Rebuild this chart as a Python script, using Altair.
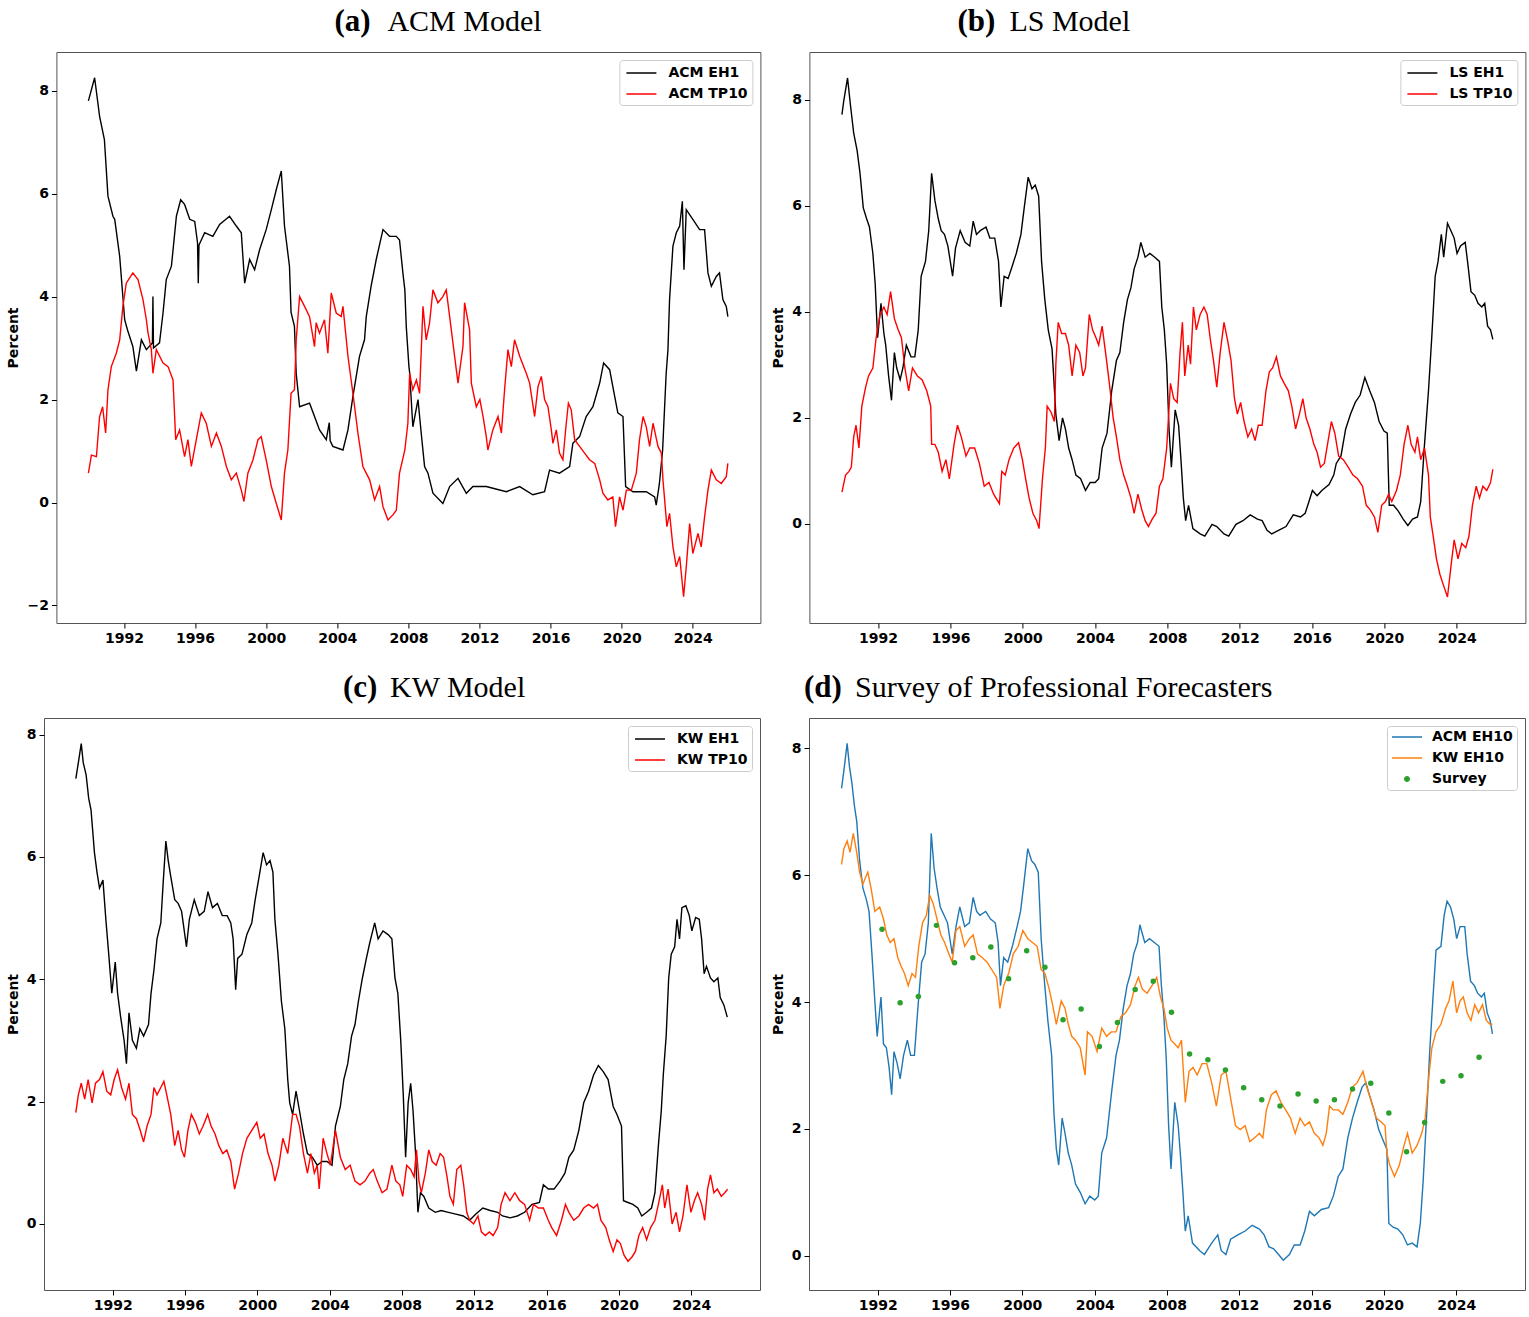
import altair as alt
import pandas as pd

# ---------------------------------------------------------------- data
# (decimal year, percent) pairs for each series

ACM_EH1 = [(1990.0,7.8),(1990.35,8.25),(1990.63,7.5),(1990.9,7.05),(1991.1,5.95),(1991.38,5.56),(1991.48,5.5),
    (1991.76,4.78),(1992.04,3.55),(1992.2,3.35),(1992.5,3.03),(1992.7,2.55),(1992.98,3.16),(1993.26,2.97),
    (1993.6,3.1),(1993.63,4.0),(1993.66,3.0),(1994.0,3.1),(1994.2,3.69),(1994.38,4.33),(1994.67,4.59),
    (1994.95,5.56),(1995.19,5.88),(1995.41,5.79),(1995.7,5.5),(1995.98,5.46),(1996.14,5.04),(1996.18,4.26),
    (1996.22,5.0),(1996.54,5.24),(1997.0,5.17),(1997.38,5.4),(1997.94,5.56),(1998.32,5.37),(1998.6,5.24),
    (1998.79,4.26),(1999.07,4.72),(1999.35,4.52),(1999.63,4.91),(2000.0,5.3),(2000.29,5.69),(2000.57,6.08),
    (2000.85,6.44),(2001.03,5.37),(2001.31,4.59),(2001.4,3.69),(2001.59,3.42),(2001.69,2.5),(2001.88,1.86),
    (2002.44,1.93),(2002.72,1.67),(2003.0,1.41),(2003.38,1.22),(2003.55,1.55),(2003.6,1.2),(2003.75,1.09),
    (2004.32,1.02),(2004.6,1.41),(2004.88,2.06),(2005.25,2.84),(2005.53,3.16),(2005.63,3.61),(2005.9,4.2),
    (2006.19,4.72),(2006.57,5.3),(2006.94,5.17),(2007.32,5.17),(2007.5,5.1),(2007.69,4.46),(2007.8,4.13),
    (2007.88,3.42),(2008.03,2.64),(2008.07,2.52),(2008.25,1.47),(2008.54,2.0),(2008.72,1.35),(2008.91,0.7),
    (2009.1,0.57),(2009.38,0.18),(2009.94,-0.02),(2010.32,0.31),(2010.79,0.47),(2011.26,0.18),(2011.63,0.31),
    (2012.38,0.31),(2013.51,0.21),(2014.26,0.31),(2015.0,0.15),(2015.66,0.21),(2015.94,0.63),(2016.5,0.57),
    (2017.07,0.7),(2017.25,1.15),(2017.63,1.28),(2018.0,1.67),(2018.38,1.86),(2018.76,2.32),(2018.98,2.71),
    (2019.32,2.58),(2019.5,2.25),(2019.78,1.74),(2020.07,1.67),(2020.22,0.31),(2020.63,0.21),(2021.38,0.21),
    (2021.85,0.11),(2021.94,-0.05),(2022.12,0.37),(2022.3,1.02),(2022.5,2.51),(2022.6,2.97),(2022.69,3.94),
    (2022.88,4.98),(2023.07,5.24),(2023.26,5.37),(2023.41,5.85),(2023.5,4.52),(2023.63,5.69),(2024.0,5.5),
    (2024.38,5.3),(2024.66,5.3),(2024.85,4.46),(2025.04,4.2),(2025.32,4.39),(2025.5,4.46),(2025.69,3.94),
    (2025.88,3.81),(2025.97,3.61)]

ACM_TP10 = [(1990.0,0.57),(1990.17,0.92),(1990.45,0.89),(1990.63,1.67),(1990.8,1.86),(1990.97,1.35),(1991.1,2.19),
    (1991.29,2.64),(1991.57,2.9),(1991.76,3.16),(1991.94,3.81),(1992.13,4.26),(1992.5,4.46),(1992.79,4.33),
    (1993.07,3.94),(1993.26,3.55),(1993.35,3.3),(1993.54,2.97),(1993.63,2.51),(1993.82,2.97),(1994.2,2.71),
    (1994.48,2.64),(1994.76,2.38),(1994.91,1.22),(1995.13,1.41),(1995.41,0.89),(1995.6,1.22),(1995.79,0.7),
    (1996.07,1.22),(1996.35,1.74),(1996.63,1.54),(1996.92,1.09),(1997.2,1.35),(1997.48,1.09),(1997.76,0.7),
    (1998.04,0.44),(1998.32,0.57),(1998.6,0.24),(1998.75,0.02),(1998.97,0.57),(1999.26,0.83),(1999.54,1.22),
    (1999.72,1.28),(2000.0,0.83),(2000.29,0.31),(2000.57,-0.02),(2000.85,-0.34),(2001.03,0.57),(2001.22,1.02),
    (2001.4,2.12),(2001.59,2.19),(2001.69,3.16),(2001.88,4.0),(2002.16,3.81),(2002.44,3.61),(2002.72,3.03),
    (2002.81,3.49),(2003.0,3.29),(2003.28,3.55),(2003.47,2.9),(2003.66,4.07),(2003.94,3.68),(2004.22,3.61),
    (2004.32,3.81),(2004.6,2.84),(2004.88,2.12),(2005.16,1.35),(2005.44,0.7),(2005.82,0.44),(2006.1,0.05),
    (2006.38,0.31),(2006.57,-0.08),(2006.85,-0.34),(2007.13,-0.24),(2007.32,-0.15),(2007.5,0.57),(2007.8,1.02),
    (2007.97,1.54),(2008.07,2.51),(2008.25,2.19),(2008.45,2.38),(2008.63,2.12),(2008.82,3.81),(2009.0,3.16),
    (2009.19,3.49),(2009.38,4.13),(2009.66,3.88),(2009.94,4.0),(2010.13,4.13),(2010.32,3.61),(2010.6,2.84),
    (2010.79,2.32),(2011.07,3.03),(2011.16,3.88),(2011.44,3.36),(2011.54,2.32),(2011.82,1.86),(2012.02,2.0),
    (2012.2,1.67),(2012.38,1.28),(2012.47,1.02),(2012.75,1.41),(2013.04,1.67),(2013.23,1.35),(2013.41,2.19),
    (2013.6,2.97),(2013.79,2.64),(2013.97,3.16),(2014.26,2.84),(2014.63,2.51),(2014.82,2.32),(2015.1,1.67),
    (2015.29,2.25),(2015.48,2.45),(2015.66,2.0),(2015.85,1.86),(2016.04,1.41),(2016.13,1.15),(2016.32,1.41),
    (2016.5,0.96),(2016.69,0.83),(2016.88,1.54),(2017.0,1.93),(2017.16,1.8),(2017.35,1.22),(2017.63,1.09),
    (2017.91,0.96),(2018.19,0.83),(2018.48,0.76),(2018.76,0.44),(2018.94,0.18),(2019.22,0.05),(2019.5,0.11),
    (2019.65,-0.47),(2019.88,0.11),(2020.07,-0.15),(2020.26,0.24),(2020.54,0.24),(2020.82,0.57),(2021.0,1.22),
    (2021.2,1.67),(2021.38,1.47),(2021.57,1.09),(2021.76,1.54),(2022.04,1.09),(2022.23,0.96),(2022.32,0.44),
    (2022.54,-0.47),(2022.69,-0.21),(2022.88,-0.86),(2023.07,-1.25),(2023.26,-1.05),(2023.48,-1.83),
    (2023.63,-1.25),(2023.82,-0.41),(2024.0,-0.99),(2024.29,-0.6),(2024.47,-0.86),(2024.66,-0.28),
    (2024.85,0.24),(2025.04,0.63),(2025.32,0.44),(2025.6,0.37),(2025.88,0.5),(2025.97,0.76)]

LS_EH1 = [(1990.0,7.72),(1990.1,7.98),(1990.31,8.41),(1990.47,7.9),(1990.65,7.37),(1990.84,7.04),(1991.0,6.61),
    (1991.18,5.96),(1991.37,5.75),(1991.52,5.6),(1991.71,5.1),(1991.84,4.52),(1991.97,3.51),(1992.16,4.16),
    (1992.32,3.59),(1992.42,3.37),(1992.58,2.79),(1992.74,2.33),(1992.9,3.23),(1993.03,2.94),(1993.22,2.72),
    (1993.37,2.94),(1993.56,3.37),(1993.82,3.15),(1994.03,3.15),(1994.22,3.66),(1994.38,4.67),(1994.62,4.95),
    (1994.8,5.53),(1994.96,6.61),(1995.14,6.1),(1995.33,5.75),(1995.49,5.53),(1995.67,5.46),(1995.86,5.24),
    (1996.12,4.67),(1996.28,5.2),(1996.54,5.53),(1996.81,5.31),(1997.07,5.24),(1997.26,5.71),(1997.44,5.46),
    (1997.65,5.53),(1997.97,5.6),(1998.18,5.39),(1998.45,5.39),(1998.66,4.95),(1998.79,4.09),(1998.97,4.67),
    (1999.19,4.63),(1999.37,4.81),(1999.64,5.1),(1999.9,5.46),(2000.08,5.96),(2000.3,6.54),(2000.51,6.32),
    (2000.69,6.39),(2000.88,6.18),(2001.04,4.95),(2001.22,4.23),(2001.41,3.66),(2001.62,3.3),(2001.83,2.07),
    (2002.01,1.57),(2002.2,2.0),(2002.36,1.79),(2002.54,1.43),(2002.73,1.21),(2002.94,0.92),(2003.2,0.85),
    (2003.47,0.63),(2003.73,0.78),(2004.0,0.78),(2004.2,0.85),(2004.39,1.43),(2004.66,1.71),(2004.92,2.51),
    (2005.18,3.08),(2005.37,3.23),(2005.58,3.8),(2005.79,4.23),(2005.98,4.45),(2006.16,4.81),(2006.37,5.03),
    (2006.53,5.31),(2006.77,5.03),(2007.03,5.1),(2007.3,5.03),(2007.56,4.95),(2007.69,4.09),(2007.83,3.66),
    (2007.96,3.01),(2008.09,1.79),(2008.22,1.07),(2008.43,2.15),(2008.62,1.86),(2008.75,1.21),(2008.88,0.49),
    (2009.01,0.06),(2009.17,0.35),(2009.41,-0.09),(2009.81,-0.19),(2010.07,-0.23),(2010.47,-0.01),
    (2010.73,-0.05),(2011.13,-0.19),(2011.39,-0.23),(2011.79,-0.01),(2012.18,0.06),(2012.58,0.17),
    (2012.98,0.09),(2013.24,0.06),(2013.51,-0.12),(2013.77,-0.19),(2014.17,-0.12),(2014.56,-0.05),
    (2014.96,0.17),(2015.36,0.13),(2015.62,0.2),(2015.83,0.42),(2016.02,0.63),(2016.28,0.53),(2016.54,0.63),
    (2016.94,0.74),(2017.2,0.92),(2017.34,1.14),(2017.6,1.28),(2017.86,1.79),(2018.13,2.07),(2018.39,2.29),
    (2018.66,2.43),(2018.92,2.76),(2019.19,2.51),(2019.45,2.29),(2019.71,1.93),(2019.98,1.75),(2020.16,1.71),
    (2020.27,0.35),(2020.51,0.35),(2020.77,0.24),(2021.04,0.09),(2021.3,-0.03),(2021.56,0.09),(2021.83,0.13),
    (2022.01,0.42),(2022.22,1.5),(2022.44,2.51),(2022.62,3.51),(2022.81,4.67),(2022.97,4.95),(2023.15,5.46),
    (2023.28,5.03),(2023.49,5.67),(2023.68,5.53),(2023.86,5.39),(2024.02,5.1),(2024.21,5.24),(2024.47,5.31),
    (2024.6,4.95),(2024.79,4.38),(2025.0,4.31),(2025.18,4.16),(2025.39,4.09),(2025.55,4.16),(2025.71,3.73),
    (2025.87,3.66),(2026.0,3.48)]

LS_TP10 = [(1990.0,0.6),(1990.2,0.92),(1990.39,0.99),(1990.52,1.07),(1990.65,1.64),(1990.78,1.86),(1990.94,1.43),
    (1991.1,2.22),(1991.31,2.58),(1991.47,2.79),(1991.71,2.94),(1991.89,3.51),(1992.11,3.95),(1992.32,4.09),
    (1992.5,3.95),(1992.69,4.38),(1992.9,3.87),(1993.11,3.66),(1993.29,3.51),(1993.48,2.94),(1993.69,2.51),
    (1993.9,2.94),(1994.17,2.79),(1994.43,2.72),(1994.69,2.51),(1994.91,2.22),(1994.96,1.5),(1995.14,1.5),
    (1995.33,1.35),(1995.54,0.99),(1995.75,1.21),(1995.94,0.85),(1996.2,1.5),(1996.39,1.86),(1996.6,1.64),
    (1996.86,1.28),(1997.07,1.43),(1997.34,1.43),(1997.6,1.14),(1997.87,0.71),(1998.13,0.78),(1998.39,0.56),
    (1998.71,0.38),(1998.84,0.99),(1999.03,0.92),(1999.24,1.21),(1999.5,1.43),(1999.77,1.53),(1999.98,1.21),
    (2000.16,0.85),(2000.35,0.49),(2000.56,0.2),(2000.77,0.06),(2000.9,-0.09),(2001.09,0.85),(2001.25,1.43),
    (2001.35,2.22),(2001.56,2.11),(2001.75,1.93),(2001.83,3.01),(2001.96,3.8),(2002.15,3.59),(2002.36,3.59),
    (2002.54,3.37),(2002.73,2.79),(2002.94,3.37),(2003.15,3.23),(2003.33,2.79),(2003.47,2.94),(2003.68,3.95),
    (2003.86,3.66),(2004.05,3.51),(2004.2,3.37),(2004.39,3.73),(2004.58,3.23),(2004.79,2.65),(2005.0,2.0),
    (2005.18,1.64),(2005.37,1.21),(2005.58,0.92),(2005.79,0.71),(2005.98,0.49),(2006.16,0.2),(2006.37,0.56),
    (2006.58,0.27),(2006.77,0.06),(2006.95,-0.05),(2007.16,0.09),(2007.37,0.2),(2007.56,0.71),(2007.75,0.85),
    (2007.96,1.43),(2008.17,2.65),(2008.35,2.36),(2008.54,2.29),(2008.7,3.23),(2008.83,3.8),(2008.96,2.79),
    (2009.15,3.37),(2009.28,3.01),(2009.44,4.09),(2009.6,3.66),(2009.81,3.95),(2010.02,4.09),(2010.2,3.95),
    (2010.39,3.44),(2010.55,3.08),(2010.73,2.58),(2010.92,3.23),(2011.13,3.8),(2011.34,3.44),(2011.52,3.08),
    (2011.71,2.36),(2011.87,2.07),(2012.05,2.29),(2012.24,1.93),(2012.45,1.64),(2012.66,1.79),(2012.85,1.57),
    (2013.03,1.86),(2013.24,1.86),(2013.45,2.51),(2013.64,2.87),(2013.82,2.94),(2014.03,3.15),(2014.25,2.79),
    (2014.46,2.65),(2014.69,2.51),(2014.88,2.22),(2015.09,1.79),(2015.3,2.07),(2015.49,2.36),(2015.67,2.0),
    (2015.88,1.79),(2016.1,1.5),(2016.28,1.35),(2016.47,1.07),(2016.68,1.14),(2016.89,1.57),(2017.07,1.93),
    (2017.26,1.71),(2017.47,1.28),(2017.73,1.21),(2018.0,1.07),(2018.26,0.92),(2018.52,0.85),(2018.79,0.71),
    (2019.0,0.35),(2019.21,0.27),(2019.45,0.13),(2019.64,-0.16),(2019.85,0.35),(2020.06,0.42),(2020.23,0.56),
    (2020.41,0.42),(2020.67,0.63),(2020.88,0.92),(2021.09,1.5),(2021.3,1.86),(2021.48,1.5),(2021.69,1.35),
    (2021.83,1.64),(2022.01,1.21),(2022.22,1.43),(2022.44,0.92),(2022.54,0.13),(2022.7,-0.23),(2022.88,-0.66),
    (2023.07,-0.95),(2023.28,-1.17),(2023.49,-1.38),(2023.68,-0.81),(2023.86,-0.3),(2024.07,-0.66),
    (2024.28,-0.37),(2024.5,-0.45),(2024.68,-0.23),(2024.87,0.35),(2025.08,0.71),(2025.26,0.49),(2025.45,0.71),
    (2025.66,0.63),(2025.87,0.78),(2026.0,1.03)]

KW_EH1 = [(1989.96,7.28),(1990.1,7.54),(1990.26,7.85),(1990.37,7.54),(1990.53,7.34),(1990.67,6.96),(1990.8,6.77),
    (1990.99,6.07),(1991.13,5.75),(1991.27,5.49),(1991.46,5.62),(1991.62,4.98),(1991.78,4.41),(1991.95,3.77),
    (1992.14,4.28),(1992.27,3.77),(1992.44,3.38),(1992.63,3.0),(1992.76,2.62),(1992.9,3.45),(1993.09,3.0),
    (1993.31,2.87),(1993.5,3.19),(1993.71,3.07),(1993.98,3.26),(1994.12,3.77),(1994.28,4.15),(1994.45,4.66),
    (1994.66,4.92),(1994.8,5.62),(1994.94,6.26),(1995.07,5.94),(1995.21,5.68),(1995.43,5.3),(1995.62,5.24),
    (1995.81,5.11),(1996.08,4.53),(1996.24,4.98),(1996.51,5.3),(1996.79,5.04),(1997.06,5.11),(1997.27,5.43),
    (1997.52,5.17),(1997.79,5.24),(1998.06,5.04),(1998.33,5.04),(1998.53,4.92),(1998.66,4.66),(1998.8,3.83),
    (1998.91,4.34),(1999.15,4.41),(1999.42,4.73),(1999.69,4.92),(1999.88,5.3),(2000.1,5.68),(2000.32,6.07),
    (2000.51,5.87),(2000.7,5.94),(2000.86,5.75),(2000.97,4.98),(2001.14,4.41),(2001.33,3.64),(2001.52,3.19),
    (2001.68,2.36),(2001.79,1.98),(2001.95,1.79),(2002.14,2.17),(2002.33,1.85),(2002.55,1.47),(2002.77,1.15),
    (2003.04,1.09),(2003.31,0.96),(2003.58,1.02),(2003.85,1.02),(2004.13,0.96),(2004.32,1.6),(2004.59,1.92),
    (2004.78,2.36),(2005.0,2.62),(2005.21,3.07),(2005.4,3.26),(2005.59,3.64),(2005.81,4.02),(2006.03,4.34),
    (2006.22,4.6),(2006.49,4.92),(2006.68,4.66),(2006.95,4.79),(2007.23,4.73),(2007.44,4.66),(2007.61,4.02),
    (2007.77,3.77),(2007.93,3.0),(2008.07,2.11),(2008.2,1.09),(2008.34,1.98),(2008.48,2.3),(2008.61,1.85),
    (2008.75,1.15),(2008.88,0.19),(2009.02,0.51),(2009.21,0.45),(2009.48,0.26),(2009.84,0.19),(2010.16,0.22),
    (2010.57,0.19),(2010.98,0.16),(2011.39,0.13),(2011.74,0.06),(2012.07,0.16),(2012.47,0.26),(2012.88,0.22),
    (2013.29,0.19),(2013.56,0.13),(2013.97,0.1),(2014.38,0.13),(2014.78,0.19),(2015.19,0.32),(2015.6,0.35),
    (2015.82,0.64),(2016.09,0.57),(2016.41,0.57),(2016.74,0.7),(2017.01,0.83),(2017.23,1.09),(2017.5,1.21),
    (2017.78,1.53),(2018.05,1.98),(2018.32,2.17),(2018.59,2.43),(2018.86,2.59),(2019.13,2.49),(2019.4,2.36),
    (2019.68,1.92),(2019.89,1.79),(2020.14,1.6),(2020.25,0.38),(2020.5,0.35),(2020.77,0.32),(2021.04,0.26),
    (2021.26,0.13),(2021.53,0.19),(2021.8,0.26),(2021.99,0.51),(2022.18,1.28),(2022.34,1.85),(2022.45,2.43),
    (2022.61,3.07),(2022.75,4.02),(2022.89,4.41),(2023.08,4.53),(2023.21,4.98),(2023.35,4.66),(2023.48,5.17),
    (2023.7,5.2),(2023.89,5.04),(2024.03,4.79),(2024.24,5.01),(2024.44,4.98),(2024.57,4.66),(2024.71,4.09),
    (2024.84,4.21),(2025.06,4.02),(2025.25,3.96),(2025.47,4.02),(2025.6,3.7),(2025.8,3.58),(2025.99,3.38)]

KW_TP10 = [(1989.96,1.82),(1990.1,2.11),(1990.26,2.3),(1990.45,2.04),(1990.64,2.36),(1990.86,1.98),(1991.05,2.3),
    (1991.27,2.36),(1991.46,2.49),(1991.67,2.17),(1991.89,2.11),(1992.08,2.36),(1992.27,2.52),(1992.49,2.23),
    (1992.71,2.04),(1992.9,2.3),(1993.09,1.79),(1993.31,1.72),(1993.52,1.53),(1993.71,1.34),(1993.9,1.6),
    (1994.12,1.79),(1994.28,2.23),(1994.45,2.11),(1994.66,2.23),(1994.83,2.33),(1994.99,2.11),(1995.21,1.79),
    (1995.43,1.28),(1995.62,1.53),(1995.81,1.21),(1995.97,1.09),(1996.16,1.53),(1996.35,1.79),(1996.57,1.66),
    (1996.79,1.47),(1997.0,1.6),(1997.25,1.79),(1997.44,1.6),(1997.66,1.47),(1997.87,1.28),(1998.09,1.15),
    (1998.31,1.21),(1998.53,1.02),(1998.74,0.57),(1998.96,0.83),(1999.18,1.15),(1999.42,1.4),(1999.69,1.53),
    (1999.97,1.66),(2000.16,1.4),(2000.37,1.47),(2000.59,1.15),(2000.81,0.96),(2000.97,0.7),(2001.19,0.96),
    (2001.41,1.4),(2001.68,1.15),(2001.95,1.79),(2002.14,1.79),(2002.33,1.6),(2002.55,1.15),(2002.77,0.83),
    (2002.96,1.15),(2003.15,0.83),(2003.31,0.96),(2003.42,0.57),(2003.64,1.4),(2003.85,1.15),(2004.04,0.96),
    (2004.32,1.53),(2004.59,1.09),(2004.86,0.89),(2005.13,0.96),(2005.4,0.7),(2005.68,0.64),(2005.95,0.7),
    (2006.22,0.83),(2006.41,0.89),(2006.63,0.7),(2006.9,0.51),(2007.17,0.57),(2007.44,0.96),(2007.66,0.7),
    (2007.88,0.64),(2008.04,0.45),(2008.26,0.96),(2008.48,0.89),(2008.67,0.77),(2008.8,1.21),(2008.94,0.7),
    (2009.07,0.51),(2009.29,0.83),(2009.48,1.21),(2009.67,1.02),(2009.89,0.96),(2010.11,1.15),(2010.3,1.09),
    (2010.49,0.77),(2010.65,0.45),(2010.84,0.32),(2011.03,0.89),(2011.25,0.96),(2011.41,0.64),(2011.58,0.19),
    (2011.74,0.06),(2011.96,0.0),(2012.2,0.13),(2012.39,-0.13),(2012.61,-0.19),(2012.83,-0.13),(2013.04,-0.19),
    (2013.29,-0.06),(2013.48,0.32),(2013.7,0.51),(2013.97,0.38),(2014.24,0.51),(2014.51,0.38),(2014.78,0.32),
    (2015.06,0.06),(2015.27,0.32),(2015.55,0.26),(2015.82,0.26),(2016.09,0.06),(2016.28,-0.06),(2016.55,-0.19),
    (2016.82,0.06),(2017.04,0.32),(2017.23,0.19),(2017.5,0.06),(2017.78,0.13),(2018.05,0.26),(2018.32,0.32),
    (2018.59,0.26),(2018.81,0.32),(2019.0,0.06),(2019.27,-0.06),(2019.46,-0.26),(2019.68,-0.45),(2019.89,-0.26),
    (2020.08,-0.32),(2020.28,-0.51),(2020.5,-0.61),(2020.72,-0.54),(2020.91,-0.45),(2021.1,-0.19),(2021.31,-0.06),
    (2021.53,-0.26),(2021.75,-0.06),(2021.99,0.06),(2022.18,0.32),(2022.4,0.64),(2022.53,0.26),(2022.72,0.57),
    (2022.94,0.0),(2023.16,0.19),(2023.35,-0.13),(2023.54,0.13),(2023.76,0.64),(2023.98,0.19),(2024.17,0.38),
    (2024.35,0.51),(2024.57,0.32),(2024.74,0.06),(2024.9,0.57),(2025.06,0.8),(2025.25,0.51),(2025.44,0.57),
    (2025.66,0.45),(2025.85,0.51),(2026.01,0.57)]

ACM_EH10 = [(1990.0,7.37),(1990.13,7.65),(1990.31,8.08),(1990.44,7.71),(1990.57,7.46),(1990.71,7.1),(1990.84,6.85),
    (1991.0,6.23),(1991.18,5.8),(1991.37,5.62),(1991.52,5.43),(1991.68,4.76),(1991.84,4.02),(1991.97,3.46),
    (1992.18,4.08),(1992.32,3.34),(1992.48,3.28),(1992.63,2.97),(1992.77,2.54),(1992.9,3.22),(1993.08,3.03),
    (1993.24,2.79),(1993.43,3.16),(1993.64,3.4),(1993.82,3.16),(1994.03,3.16),(1994.22,3.9),(1994.43,4.63),
    (1994.62,4.76),(1994.8,5.25),(1994.96,6.66),(1995.12,6.11),(1995.28,5.8),(1995.46,5.5),(1995.67,5.37),
    (1995.86,5.25),(1996.12,4.76),(1996.33,5.19),(1996.54,5.5),(1996.81,5.19),(1997.07,5.25),(1997.28,5.65),
    (1997.47,5.43),(1997.65,5.37),(1997.97,5.43),(1998.24,5.31),(1998.5,5.25),(1998.66,4.94),(1998.79,4.26),
    (1998.97,4.7),(1999.19,4.63),(1999.45,4.88),(1999.71,5.19),(1999.9,5.43),(2000.08,5.86),(2000.3,6.42),
    (2000.51,6.23),(2000.69,6.17),(2000.88,6.05),(2001.04,5.0),(2001.22,4.33),(2001.41,3.71),(2001.62,3.16),
    (2001.75,2.23),(2001.88,1.68),(2002.01,1.43),(2002.2,2.17),(2002.36,1.93),(2002.54,1.62),(2002.73,1.43),
    (2002.94,1.13),(2003.2,1.0),(2003.47,0.82),(2003.73,0.94),(2004.0,0.88),(2004.2,0.94),(2004.39,1.62),
    (2004.66,1.86),(2004.92,2.54),(2005.18,3.16),(2005.37,3.4),(2005.58,3.9),(2005.79,4.26),(2005.98,4.45),
    (2006.16,4.76),(2006.37,4.94),(2006.5,5.22),(2006.77,4.94),(2007.03,5.0),(2007.3,4.94),(2007.56,4.88),
    (2007.69,4.26),(2007.83,3.77),(2007.96,3.1),(2008.09,2.05),(2008.22,1.37),(2008.43,2.42),(2008.62,2.05),
    (2008.75,1.56),(2008.88,1.0),(2009.01,0.39),(2009.17,0.63),(2009.41,0.2),(2009.81,0.08),(2010.07,0.02),
    (2010.47,0.2),(2010.81,0.33),(2011.0,0.08),(2011.26,0.02),(2011.52,0.26),(2011.92,0.33),(2012.32,0.39),
    (2012.71,0.48),(2013.11,0.42),(2013.37,0.33),(2013.64,0.14),(2013.9,0.11),(2014.17,0.02),(2014.43,-0.07),
    (2014.77,0.02),(2015.04,0.17),(2015.36,0.17),(2015.62,0.39),(2015.88,0.7),(2016.15,0.63),(2016.54,0.73),
    (2016.94,0.76),(2017.2,0.94),(2017.47,1.25),(2017.73,1.37),(2018.0,1.86),(2018.26,2.17),(2018.52,2.42),
    (2018.79,2.66),(2019.0,2.73),(2019.19,2.54),(2019.45,2.3),(2019.71,1.99),(2019.98,1.8),(2020.16,1.68),
    (2020.27,0.51),(2020.51,0.45),(2020.77,0.42),(2021.04,0.33),(2021.3,0.17),(2021.56,0.2),(2021.83,0.14),
    (2022.01,0.51),(2022.17,1.19),(2022.36,2.23),(2022.54,3.28),(2022.7,4.02),(2022.88,4.82),(2023.15,4.88),
    (2023.33,5.37),(2023.49,5.59),(2023.68,5.5),(2023.86,5.31),(2024.02,5.0),(2024.21,5.19),(2024.47,5.19),
    (2024.6,4.76),(2024.79,4.33),(2025.0,4.26),(2025.18,4.14),(2025.39,4.08),(2025.55,4.14),(2025.71,3.83),
    (2025.87,3.71),(2026.0,3.5)]

KW_EH10 = [(1990.0,6.17),(1990.13,6.42),(1990.31,6.54),(1990.47,6.36),(1990.65,6.66),(1990.84,6.36),(1991.0,6.05),
    (1991.18,5.86),(1991.45,6.05),(1991.63,5.8),(1991.84,5.43),(1992.11,5.5),(1992.32,5.31),(1992.5,5.06),
    (1992.69,4.94),(1992.9,5.0),(1993.11,4.7),(1993.29,4.57),(1993.48,4.45),(1993.69,4.26),(1993.9,4.45),
    (1994.09,4.39),(1994.27,4.88),(1994.48,5.25),(1994.69,5.37),(1994.88,5.68),(1995.06,5.56),(1995.28,5.31),
    (1995.49,5.06),(1995.7,4.94),(1995.94,4.76),(1996.12,4.63),(1996.33,5.13),(1996.54,5.19),(1996.81,4.88),
    (1997.07,5.0),(1997.28,5.06),(1997.52,4.76),(1997.79,4.7),(1998.05,4.63),(1998.31,4.51),(1998.58,4.39),
    (1998.76,3.9),(1998.97,4.26),(1999.24,4.45),(1999.5,4.76),(1999.77,4.88),(2000.03,5.13),(2000.3,5.0),
    (2000.56,4.94),(2000.82,4.88),(2001.04,4.51),(2001.25,4.45),(2001.49,4.2),(2001.67,3.96),(2001.88,3.65),
    (2002.15,4.02),(2002.36,3.9),(2002.54,3.65),(2002.73,3.46),(2002.94,3.4),(2003.2,3.28),(2003.47,2.85),
    (2003.6,3.53),(2003.86,3.46),(2004.13,3.22),(2004.39,3.59),(2004.66,3.46),(2004.92,3.53),(2005.18,3.53),
    (2005.45,3.77),(2005.71,3.83),(2005.98,3.96),(2006.24,4.26),(2006.42,4.39),(2006.64,4.2),(2006.9,4.14),
    (2007.17,4.26),(2007.43,4.39),(2007.64,4.08),(2007.83,3.9),(2008.01,3.59),(2008.22,3.4),(2008.43,3.34),
    (2008.62,3.28),(2008.8,3.4),(2009.01,2.42),(2009.22,2.91),(2009.44,2.97),(2009.67,2.85),(2009.94,3.03),
    (2010.2,3.03),(2010.47,2.73),(2010.73,2.36),(2011.0,2.85),(2011.26,2.91),(2011.52,2.48),(2011.79,2.05),
    (2012.05,1.99),(2012.32,2.05),(2012.58,1.8),(2012.85,1.86),(2013.11,1.93),(2013.3,1.86),(2013.5,2.3),
    (2013.77,2.54),(2014.03,2.6),(2014.3,2.42),(2014.56,2.3),(2014.83,2.17),(2015.09,1.93),(2015.36,2.17),
    (2015.62,2.05),(2015.88,2.11),(2016.15,1.93),(2016.41,1.86),(2016.62,1.74),(2016.81,1.93),(2016.99,2.36),
    (2017.2,2.3),(2017.47,2.3),(2017.73,2.23),(2018.0,2.42),(2018.26,2.66),(2018.52,2.73),(2018.84,2.91),
    (2019.05,2.66),(2019.31,2.42),(2019.58,2.17),(2019.85,2.11),(2020.06,2.05),(2020.16,1.62),(2020.32,1.43),
    (2020.58,1.25),(2020.85,1.43),(2021.11,1.74),(2021.3,1.93),(2021.56,1.62),(2021.83,1.74),(2022.09,1.93),
    (2022.28,2.17),(2022.49,2.85),(2022.65,3.28),(2022.88,3.53),(2023.15,3.65),(2023.41,3.9),(2023.6,4.02),
    (2023.81,4.33),(2024.02,3.83),(2024.21,4.02),(2024.39,4.08),(2024.6,3.83),(2024.81,3.71),(2025.02,3.96),
    (2025.23,3.83),(2025.45,3.96),(2025.66,3.71),(2025.87,3.65),(2026.0,3.65)]

SURVEY = [(1992.24,5.15),(1993.24,3.99),(1994.25,4.09),(1995.25,5.21),(1996.25,4.62),(1997.26,4.7),(1998.26,4.87),
    (1999.24,4.37),(2000.24,4.81),(2001.25,4.55),(2002.25,3.72),(2003.25,3.89),(2004.26,3.3),(2005.26,3.68),
    (2006.24,4.2),(2007.24,4.33),(2008.25,3.84),(2009.25,3.18),(2010.26,3.09),(2011.23,2.93),(2012.24,2.65),
    (2013.24,2.46),(2014.25,2.36),(2015.25,2.55),(2016.25,2.44),(2017.26,2.46),(2018.26,2.63),(2019.27,2.72),
    (2020.27,2.25),(2021.25,1.64),(2022.25,2.1),(2023.25,2.75),(2024.26,2.84),(2025.26,3.13)]

YEAR_TICKS = [1992, 1996, 2000, 2004, 2008, 2012, 2016, 2020, 2024]
YEAR_RANGE = [1988.2, 2027.8]

# ---------------------------------------------------------------- styling
SANS = "DejaVu Sans"
SERIF = "Liberation Serif"
LINE_W = 1.4
# legend glyphs, in units of half the 16 px symbol box
LINE_SYMBOL = "M-0.75,0H3"
DOT_SYMBOL = "M0.75,0A0.375,0.375 0 1,0 1.5,0A0.375,0.375 0 1,0 0.75,0Z"


def table(series):
    rows = []
    for name, pts in series:
        for t, v in pts:
            rows.append({"year": t, "value": v, "series": name})
    return pd.DataFrame(rows)


def legend(**extra):
    opts = dict(title=None, orient="top-right", offset=8, symbolType=LINE_SYMBOL, symbolSize=256,
                symbolStrokeWidth=1.5, labelFont=SANS, labelFontWeight="bold", labelFontSize=14,
                labelColor="black", labelOffset=27, padding=4, rowPadding=5, strokeColor="#cccccc",
                fillColor="white", cornerRadius=3)
    opts.update(extra)
    return alt.Legend(**opts)


def heading(tag, text, tag_x, text_x):
    d = pd.DataFrame({"tag": [tag], "text": [text]})
    bold = alt.Chart(d).mark_text(align="left", baseline="alphabetic", font=SERIF, fontSize=31,
                                  fontWeight="bold", color="black").encode(
        x=alt.value(tag_x), y=alt.value(-21), text="tag:N")
    plain = alt.Chart(d).mark_text(align="left", baseline="alphabetic", font=SERIF, fontSize=30,
                                   color="black").encode(
        x=alt.value(text_x), y=alt.value(-21), text="text:N")
    return [bold, plain]


def panel(series, colors, ydom, yticks, w, h, tag, text, tag_x, text_x, points=None, leg=None):
    names = [s[0] for s in series] + ([points[0]] if points else [])
    x = alt.X("year:Q", scale=alt.Scale(domain=YEAR_RANGE, nice=False, zero=False),
              axis=alt.Axis(values=YEAR_TICKS, format="d", title=None))
    y = alt.Y("value:Q", scale=alt.Scale(domain=ydom, nice=False, zero=False),
              axis=alt.Axis(values=yticks, format="d", title="Percent"))
    leg = leg or legend()
    color = alt.Color("series:N", scale=alt.Scale(domain=names, range=colors), legend=leg)
    layers = [alt.Chart(table(series)).mark_line(strokeWidth=LINE_W, clip=True).encode(
        x=x, y=y, color=color, order="year:Q")]
    if points:
        layers.append(alt.Chart(table([points])).mark_point(filled=True, size=30, opacity=1).encode(
            x=x, y=y, color=color))
    layers += heading(tag, text, tag_x, text_x)
    return alt.layer(*layers).properties(width=w, height=h)


pa = panel([("ACM EH1", ACM_EH1), ("ACM TP10", ACM_TP10)], ["#000000", "#ff0000"],
           [-2.34, 8.75], [-2, 0, 2, 4, 6, 8], 704, 571, "(a)", "ACM Model", 278, 331)
pb = panel([("LS EH1", LS_EH1), ("LS TP10", LS_TP10)], ["#000000", "#ff0000"],
           [-1.87, 8.9], [0, 2, 4, 6, 8], 716, 571, "(b)", "LS Model", 148, 200)
pc = panel([("KW EH1", KW_EH1), ("KW TP10", KW_TP10)], ["#000000", "#ff0000"],
           [-1.08, 8.27], [0, 2, 4, 6, 8], 716, 572, "(c)", "KW Model", 299, 346)

# the survey entry gets a small dot instead of a line segment
is_survey = "datum.value === 'Survey'"
survey_legend = legend(
    rowPadding=7,
    symbolType=alt.ExprRef(expr=f"{is_survey} ? '{DOT_SYMBOL}' : '{LINE_SYMBOL}'"),
    symbolFillColor=alt.ExprRef(expr=f"{is_survey} ? '#2ca02c' : 'transparent'"),
    symbolStrokeWidth=alt.ExprRef(expr=f"{is_survey} ? 0 : 1.5"),
)
pd_ = panel([("ACM EH10", ACM_EH10), ("KW EH10", KW_EH10)], ["#1f77b4", "#ff7f0e", "#2ca02c"],
            [-0.54, 8.48], [0, 2, 4, 6, 8], 716, 572, "(d)", "Survey of Professional Forecasters", -5, 46,
            points=("Survey", SURVEY), leg=survey_legend)

# an empty 1 px cell in front of the top row moves panel (a) right of panel (c),
# leaving room for the wider "−2" tick label
spacer = alt.Chart(pd.DataFrame({"v": [0]})).mark_point(opacity=0).encode(
    x=alt.value(0), y=alt.value(0)
).properties(width=1, height=1, view=alt.ViewBackground(stroke="transparent"))

top_pair = alt.hconcat(pa, pb, spacing=49, bounds="flush").resolve_scale(color="independent")
top = alt.hconcat(spacer, top_pair, spacing=11.4, bounds="flush").resolve_scale(color="independent")
bottom = alt.hconcat(pc, pd_, spacing=49, bounds="flush").resolve_scale(color="independent")

chart = alt.concat(top, bottom, columns=1, spacing=25).resolve_scale(
    color="independent"
).properties(
    padding={"left": 5, "top": 5, "right": 2, "bottom": 2}, background="white"
).configure_view(stroke="#555555", strokeWidth=1).configure_axis(
    labelFont=SANS, labelFontWeight="bold", labelFontSize=14, labelColor="black",
    titleFont=SANS, titleFontWeight="bold", titleFontSize=14, titleColor="black",
    tickColor="black", tickSize=5, tickWidth=1, domain=False, grid=False,
    labelPadding=3, titlePadding=6,
)

chart.save("out.html", embed_options={"renderer": "svg", "actions": False})
